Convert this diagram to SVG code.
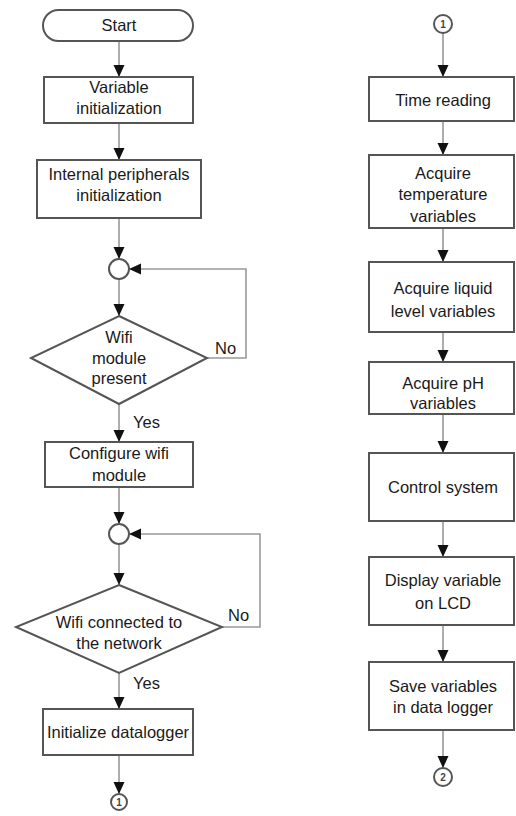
<svg xmlns="http://www.w3.org/2000/svg" width="516" height="816" viewBox="0 0 516 816">
<defs>
<style>
.box{fill:#fff;stroke:#555;stroke-width:2}
.cn{fill:none;stroke:#999;stroke-width:1.6}
.t{font-family:"Liberation Sans",Arial,sans-serif;font-size:16.5px;fill:#1a1a1a;text-anchor:middle}
.l{font-family:"Liberation Sans",Arial,sans-serif;font-size:16.5px;fill:#1a1a1a}
.s{font-family:"Liberation Sans",Arial,sans-serif;font-size:10px;font-weight:bold;fill:#444;text-anchor:middle}
.jc{fill:#fff;stroke:#555;stroke-width:2}
</style>
<marker id="ah" markerUnits="userSpaceOnUse" markerWidth="12" markerHeight="12" viewBox="0 0 12 12" refX="12" refY="6" orient="auto">
<path d="M0,0.5 L12,6 L0,11.5 Z" fill="#111"/>
</marker>
</defs>
<rect width="516" height="816" fill="#fff"/>
<g id="connectors">
<line class="cn" x1="119" y1="41" x2="119" y2="77" marker-end="url(#ah)"/>
<line class="cn" x1="119" y1="123" x2="119" y2="160" marker-end="url(#ah)"/>
<line class="cn" x1="119" y1="218" x2="119" y2="259" marker-end="url(#ah)"/>
<line class="cn" x1="119" y1="279" x2="119" y2="316" marker-end="url(#ah)"/>
<path class="cn" d="M207,358 H246 V269 H129" marker-end="url(#ah)"/>
<line class="cn" x1="119" y1="404" x2="119" y2="442" marker-end="url(#ah)"/>
<line class="cn" x1="119" y1="487" x2="119" y2="524" marker-end="url(#ah)"/>
<line class="cn" x1="119" y1="544" x2="119" y2="585" marker-end="url(#ah)"/>
<path class="cn" d="M222,627 H260 V534 H129" marker-end="url(#ah)"/>
<line class="cn" x1="119" y1="673" x2="119" y2="709" marker-end="url(#ah)"/>
<line class="cn" x1="119" y1="755" x2="119" y2="794" marker-end="url(#ah)"/>
<line class="cn" x1="443" y1="33" x2="443" y2="77" marker-end="url(#ah)"/>
<line class="cn" x1="443" y1="121" x2="443" y2="155" marker-end="url(#ah)"/>
<line class="cn" x1="443" y1="228" x2="443" y2="262" marker-end="url(#ah)"/>
<line class="cn" x1="443" y1="332" x2="443" y2="362" marker-end="url(#ah)"/>
<line class="cn" x1="443" y1="414" x2="443" y2="453" marker-end="url(#ah)"/>
<line class="cn" x1="443" y1="521" x2="443" y2="557" marker-end="url(#ah)"/>
<line class="cn" x1="443" y1="625" x2="443" y2="662" marker-end="url(#ah)"/>
<line class="cn" x1="443" y1="730" x2="443" y2="768" marker-end="url(#ah)"/>
<text class="l" x="215" y="354">No</text>
<text class="l" x="133" y="428">Yes</text>
<text class="l" x="228" y="621">No</text>
<text class="l" x="133" y="689">Yes</text>
</g>
<g id="start">
<rect class="box" x="43" y="10" width="150" height="31" rx="15.5"/>
<text class="t" x="119" y="31">Start</text>
</g>
<g id="var-init">
<rect class="box" x="44" y="77" width="149" height="46"/>
<text class="t" x="119" y="93">Variable</text>
<text class="t" x="119" y="114">initialization</text>
</g>
<g id="periph-init">
<rect class="box" x="37" y="160" width="164" height="58"/>
<text class="t" x="119" y="180">Internal peripherals</text>
<text class="t" x="119" y="201">initialization</text>
</g>
<g id="junction1">
<circle class="jc" cx="119" cy="269" r="10"/>
</g>
<g id="wifi-present">
<polygon class="box" points="119,316 207,358 119,404 31,358"/>
<text class="t" x="119" y="343">Wifi</text>
<text class="t" x="119" y="364">module</text>
<text class="t" x="119" y="384">present</text>
</g>
<g id="configure-wifi">
<rect class="box" x="45" y="442" width="148" height="45"/>
<text class="t" x="119" y="459">Configure wifi</text>
<text class="t" x="119" y="481">module</text>
</g>
<g id="junction2">
<circle class="jc" cx="119" cy="534" r="10"/>
</g>
<g id="wifi-connected">
<polygon class="box" points="119,585 222,627 119,673 16,627"/>
<text class="t" x="119" y="628">Wifi connected to</text>
<text class="t" x="119" y="649">the network</text>
</g>
<g id="init-datalogger">
<rect class="box" x="43" y="709" width="150" height="46"/>
<text class="t" x="118" y="738">Initialize datalogger</text>
</g>
<g id="conn1-out">
<circle class="jc" cx="119" cy="802" r="8"/>
<text class="s" x="119" y="806">1</text>
</g>
<g id="conn1-in">
<circle class="jc" cx="443" cy="24" r="9"/>
<text class="s" x="443" y="28">1</text>
</g>
<g id="time-reading">
<rect class="box" x="369" y="77" width="145" height="44"/>
<text class="t" x="443" y="106">Time reading</text>
</g>
<g id="acq-temp">
<rect class="box" x="369" y="155" width="145" height="73"/>
<text class="t" x="443" y="179">Acquire</text>
<text class="t" x="443" y="200">temperature</text>
<text class="t" x="443" y="222">variables</text>
</g>
<g id="acq-level">
<rect class="box" x="369" y="262" width="145" height="70"/>
<text class="t" x="443" y="294">Acquire liquid</text>
<text class="t" x="443" y="317">level variables</text>
</g>
<g id="acq-ph">
<rect class="box" x="369" y="362" width="145" height="52"/>
<text class="t" x="443" y="389">Acquire pH</text>
<text class="t" x="443" y="409">variables</text>
</g>
<g id="control">
<rect class="box" x="369" y="453" width="145" height="68"/>
<text class="t" x="443" y="493">Control system</text>
</g>
<g id="display">
<rect class="box" x="369" y="557" width="145" height="68"/>
<text class="t" x="443" y="586">Display variable</text>
<text class="t" x="443" y="609">on LCD</text>
</g>
<g id="save">
<rect class="box" x="369" y="662" width="145" height="68"/>
<text class="t" x="443" y="692">Save variables</text>
<text class="t" x="443" y="713">in data logger</text>
</g>
<g id="conn2">
<circle class="jc" cx="443" cy="777" r="9"/>
<text class="s" x="443" y="781">2</text>
</g>
</svg>
